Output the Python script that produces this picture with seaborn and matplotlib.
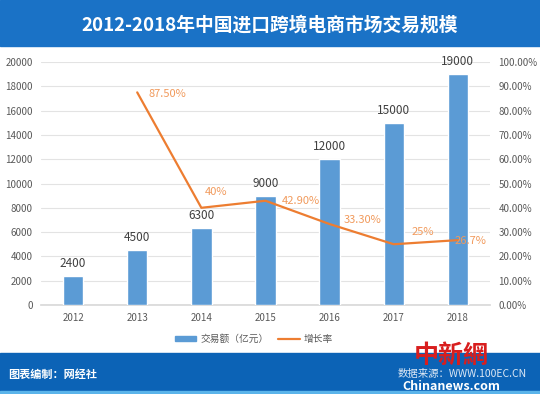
import matplotlib
matplotlib.use("Agg")
import matplotlib.pyplot as plt
import seaborn as sns
import numpy as np
from matplotlib.patches import Rectangle
from matplotlib.lines import Line2D
from matplotlib.ticker import FuncFormatter

years = ["2012", "2013", "2014", "2015", "2016", "2017", "2018"]
volume = [2400, 4500, 6300, 9000, 12000, 15000, 19000]
growth_years = ["2013", "2014", "2015", "2016", "2017", "2018"]
growth = [0.875, 0.40, 0.429, 0.333, 0.25, 0.267]
growth_labels = ["87.50%", "40%", "42.90%", "33.30%", "25%", "26.7%"]
title = "2012-2018年中国进口跨境电商市场交易规模"
legend_labels = ["交易额（亿元）", "增长率"]
footer_left = "图表编制：网经社"
footer_right = "数据来源：WWW.100EC.CN"

sns.set_theme(style="white")
plt.rcParams["font.family"] = ["Noto Sans CJK SC", "DejaVu Sans"]

BAR = "#5B9BD5"
LINE = "#ED7D31"
BAND = "#1A72C6"
FOOT = "#0C63B6"

fig = plt.figure(figsize=(5.4, 3.94), dpi=100)
fig.patch.set_facecolor("white")

fig.add_artist(Rectangle((0, 1 - 46/394), 1, 46/394, transform=fig.transFigure, color=BAND, zorder=0))
fig.add_artist(Rectangle((0, 0), 1, 41/394, transform=fig.transFigure, color=FOOT, zorder=0))
fig.add_artist(Rectangle((0, 0), 1, 3/394, transform=fig.transFigure, color="#5BB4EA", zorder=0))
fig.text(0.5, 1 - 25/394, title, ha="center", va="center", color="white",
         fontsize=13.5, fontweight="bold")
fig.text(0.015, 20/394, footer_left, ha="left", va="center", color="white", fontsize=8, fontweight="bold")
fig.text(0.975, 20/394, footer_right, ha="right", va="center", color="#DDE8F5", fontsize=7.5)
fig.text(0.835, 38/394, "中新網", ha="center", va="center", color="#D81E1E", fontsize=18,
         fontweight="bold", zorder=5)
fig.text(0.835, 8/394, "Chinanews.com", ha="center", va="center", color="white", fontsize=9,
         fontweight="bold", zorder=5)

ax = fig.add_axes([41/540, 1 - 305/394, 449/540, 243/394])
x = np.arange(len(years))
sns.barplot(x=years, y=volume, color=BAR, width=0.32, saturation=1, ax=ax, zorder=3)
ax.set_xlim(-0.5, len(years) - 0.5)
ax.set_ylim(0, 20000)
ax.set_yticks(range(0, 20001, 2000))
ax.grid(axis="y", color="#E3E3E3", linewidth=0.8, zorder=0)
ax.set_axisbelow(True)
for s in ["top", "right", "left"]:
    ax.spines[s].set_visible(False)
ax.spines["bottom"].set_color("#D9D9D9")
ax.tick_params(axis="both", length=0, labelsize=7, colors="#595959", pad=6)
ax.set_xlabel("")
ax.set_ylabel("")
for xi, v in zip(x, volume):
    ax.text(xi, v + 500, str(v), ha="center", va="bottom", fontsize=8.5, color="#404040")

ax2 = ax.twinx()
gx = [years.index(y) for y in growth_years]
sns.lineplot(x=gx, y=growth, color=LINE, linewidth=1.6, ax=ax2, zorder=4)
ax2.set_ylim(0, 1.0)
ax2.set_yticks(np.arange(0, 1.01, 0.1))
ax2.yaxis.set_major_formatter(FuncFormatter(lambda v, p: f"{v*100:.2f}%"))
ax2.tick_params(axis="y", length=0, labelsize=7, colors="#595959", pad=6)
for s in ["top", "right", "left", "bottom"]:
    ax2.spines[s].set_visible(False)
ax2.set_ylabel("")

offsets = [(0.17, -0.005, "left"), (0.06, 0.065, "left"), (0.25, 0.0, "left"),
           (0.22, 0.015, "left"), (0.27, 0.05, "left"), (-0.05, -0.005, "left")]
for xi, g, lab, (dx, dy, ha) in zip(gx, growth, growth_labels, offsets):
    ax2.text(xi + dx, g + dy, lab, ha=ha, va="center", fontsize=8, color="#F19A5C", zorder=5)

handles = [Rectangle((0, 0), 1, 1, color=BAR), Line2D([], [], color=LINE, linewidth=1.6)]
fig.legend(handles, legend_labels, loc="center", bbox_to_anchor=(0.47, 1 - 339/394),
           ncol=2, frameon=False, fontsize=7, labelcolor="#595959",
           handlelength=2.2, handleheight=0.5, columnspacing=1.0, handletextpad=0.4)

fig.savefig("out.png", dpi=100, facecolor="white")
